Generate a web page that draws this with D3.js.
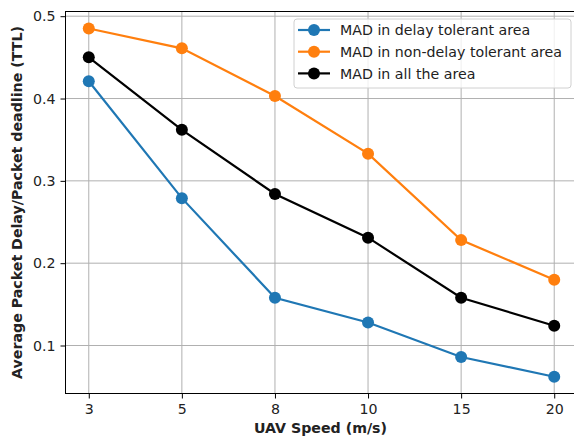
<!DOCTYPE html>
<html>
<head>
<meta charset="utf-8">
<script src="https://cdn.jsdelivr.net/npm/d3@7"></script>
<style>
  body { margin: 0; background: #fff; }
  svg { font-family: "DejaVu Sans", sans-serif; }
</style>
</head>
<body>
<svg id="chart" width="574" height="438"></svg>
<script>
// speeds on the x axis (categorical, evenly spaced)
var speeds = ["3", "5", "8", "10", "15", "20"];
var yTicks = [0.1, 0.2, 0.3, 0.4, 0.5];

var seriesNames = ["MAD in delay tolerant area", "MAD in non-delay tolerant area", "MAD in all the area"];
var seriesColors = ["#1f77b4", "#ff7f0e", "#000000"];

var delayTolerant = [0.421, 0.279, 0.158, 0.128, 0.086, 0.062];
var nonDelayTolerant = [0.485, 0.461, 0.403, 0.333, 0.228, 0.180];
var allArea = [0.450, 0.362, 0.284, 0.231, 0.158, 0.124];

var allSeries = [delayTolerant, nonDelayTolerant, allArea];

var fontSize = "14.2px";

var svg = d3.select("#chart");

// plot box (window.top is reserved, so keep these in an object)
var box = { left: 65.5, right: 577.5, top: 11.5, bottom: 393.5 };

// categorical positions with matplotlib style 5% margins
var x = d3.scaleLinear()
  .domain([-0.25, speeds.length - 1 + 0.25])
  .range([box.left, box.right]);

var y = d3.scaleLinear()
  .domain([0.0417, 0.5057])
  .range([box.bottom, box.top]);

// grid
svg.append("g").selectAll("line")
  .data(speeds)
  .enter().append("line")
  .attr("x1", function(d, i) { return x(i); })
  .attr("x2", function(d, i) { return x(i); })
  .attr("y1", box.top).attr("y2", box.bottom)
  .style("stroke", "#b0b0b0").style("stroke-width", 1);

svg.append("g").selectAll("line")
  .data(yTicks)
  .enter().append("line")
  .attr("x1", box.left).attr("x2", box.right)
  .attr("y1", function(d) { return y(d); })
  .attr("y2", function(d) { return y(d); })
  .style("stroke", "#b0b0b0").style("stroke-width", 1);

// axes
var xAxis = d3.axisBottom(x)
  .tickValues(d3.range(speeds.length))
  .tickFormat(function(i) { return speeds[i]; })
  .tickSize(5).tickPadding(5);
var yAxis = d3.axisLeft(y)
  .tickValues(yTicks)
  .tickFormat(d3.format(".1f"))
  .tickSize(5).tickPadding(5);

var gx = svg.append("g").attr("transform", "translate(0," + box.bottom + ")").call(xAxis);
var gy = svg.append("g").attr("transform", "translate(" + box.left + ",0)").call(yAxis);
[gx, gy].forEach(function(g) {
  g.select(".domain").remove();
  g.selectAll("line").style("stroke", "#000").style("stroke-width", 1);
  g.selectAll("text").style("font-size", fontSize).style("fill", "#222")
    .style("font-family", "DejaVu Sans, sans-serif");
});

// spines
svg.append("rect")
  .attr("x", box.left).attr("y", box.top)
  .attr("width", box.right - box.left).attr("height", box.bottom - box.top)
  .style("fill", "none").style("stroke", "#000").style("stroke-width", 1);

// lines and markers
var line = d3.line()
  .x(function(d, i) { return x(i); })
  .y(function(d) { return y(d); });

allSeries.forEach(function(s, k) {
  svg.append("path")
    .datum(s)
    .attr("d", line)
    .style("fill", "none")
    .style("stroke", seriesColors[k])
    .style("stroke-width", 2.2);
  svg.append("g").selectAll("circle")
    .data(s)
    .enter().append("circle")
    .attr("cx", function(d, i) { return x(i); })
    .attr("cy", function(d) { return y(d); })
    .attr("r", 6)
    .style("fill", seriesColors[k]);
});

// legend
var lg = svg.append("g");
lg.append("rect")
  .attr("x", 294).attr("y", 19)
  .attr("width", 277).attr("height", 69)
  .attr("rx", 3)
  .style("fill", "#fff").style("fill-opacity", 0.8)
  .style("stroke", "#d0d0d0").style("stroke-width", 1);

seriesNames.forEach(function(name, k) {
  var ly = 30 + k * 21.7;
  lg.append("line")
    .attr("x1", 298).attr("x2", 330)
    .attr("y1", ly).attr("y2", ly)
    .style("stroke", seriesColors[k]).style("stroke-width", 2.2);
  lg.append("circle")
    .attr("cx", 314).attr("cy", ly).attr("r", 6)
    .style("fill", seriesColors[k]);
  lg.append("text")
    .attr("x", 340).attr("y", ly)
    .attr("dy", "0.36em")
    .style("font-size", fontSize).style("fill", "#222")
    .text(name);
});

// axis labels
svg.append("text")
  .attr("x", (box.left + box.right) / 2 - 1).attr("y", 433)
  .attr("text-anchor", "middle")
  .style("font-size", fontSize).style("font-weight", "bold").style("fill", "#222")
  .text("UAV Speed (m/s)");

svg.append("text")
  .attr("transform", "translate(22," + ((box.top + box.bottom) / 2) + ") rotate(-90)")
  .attr("text-anchor", "middle")
  .style("font-size", fontSize).style("font-weight", "bold").style("fill", "#222")
  .text("Average Packet Delay/Packet deadline (TTL)");
</script>
</body>
</html>
